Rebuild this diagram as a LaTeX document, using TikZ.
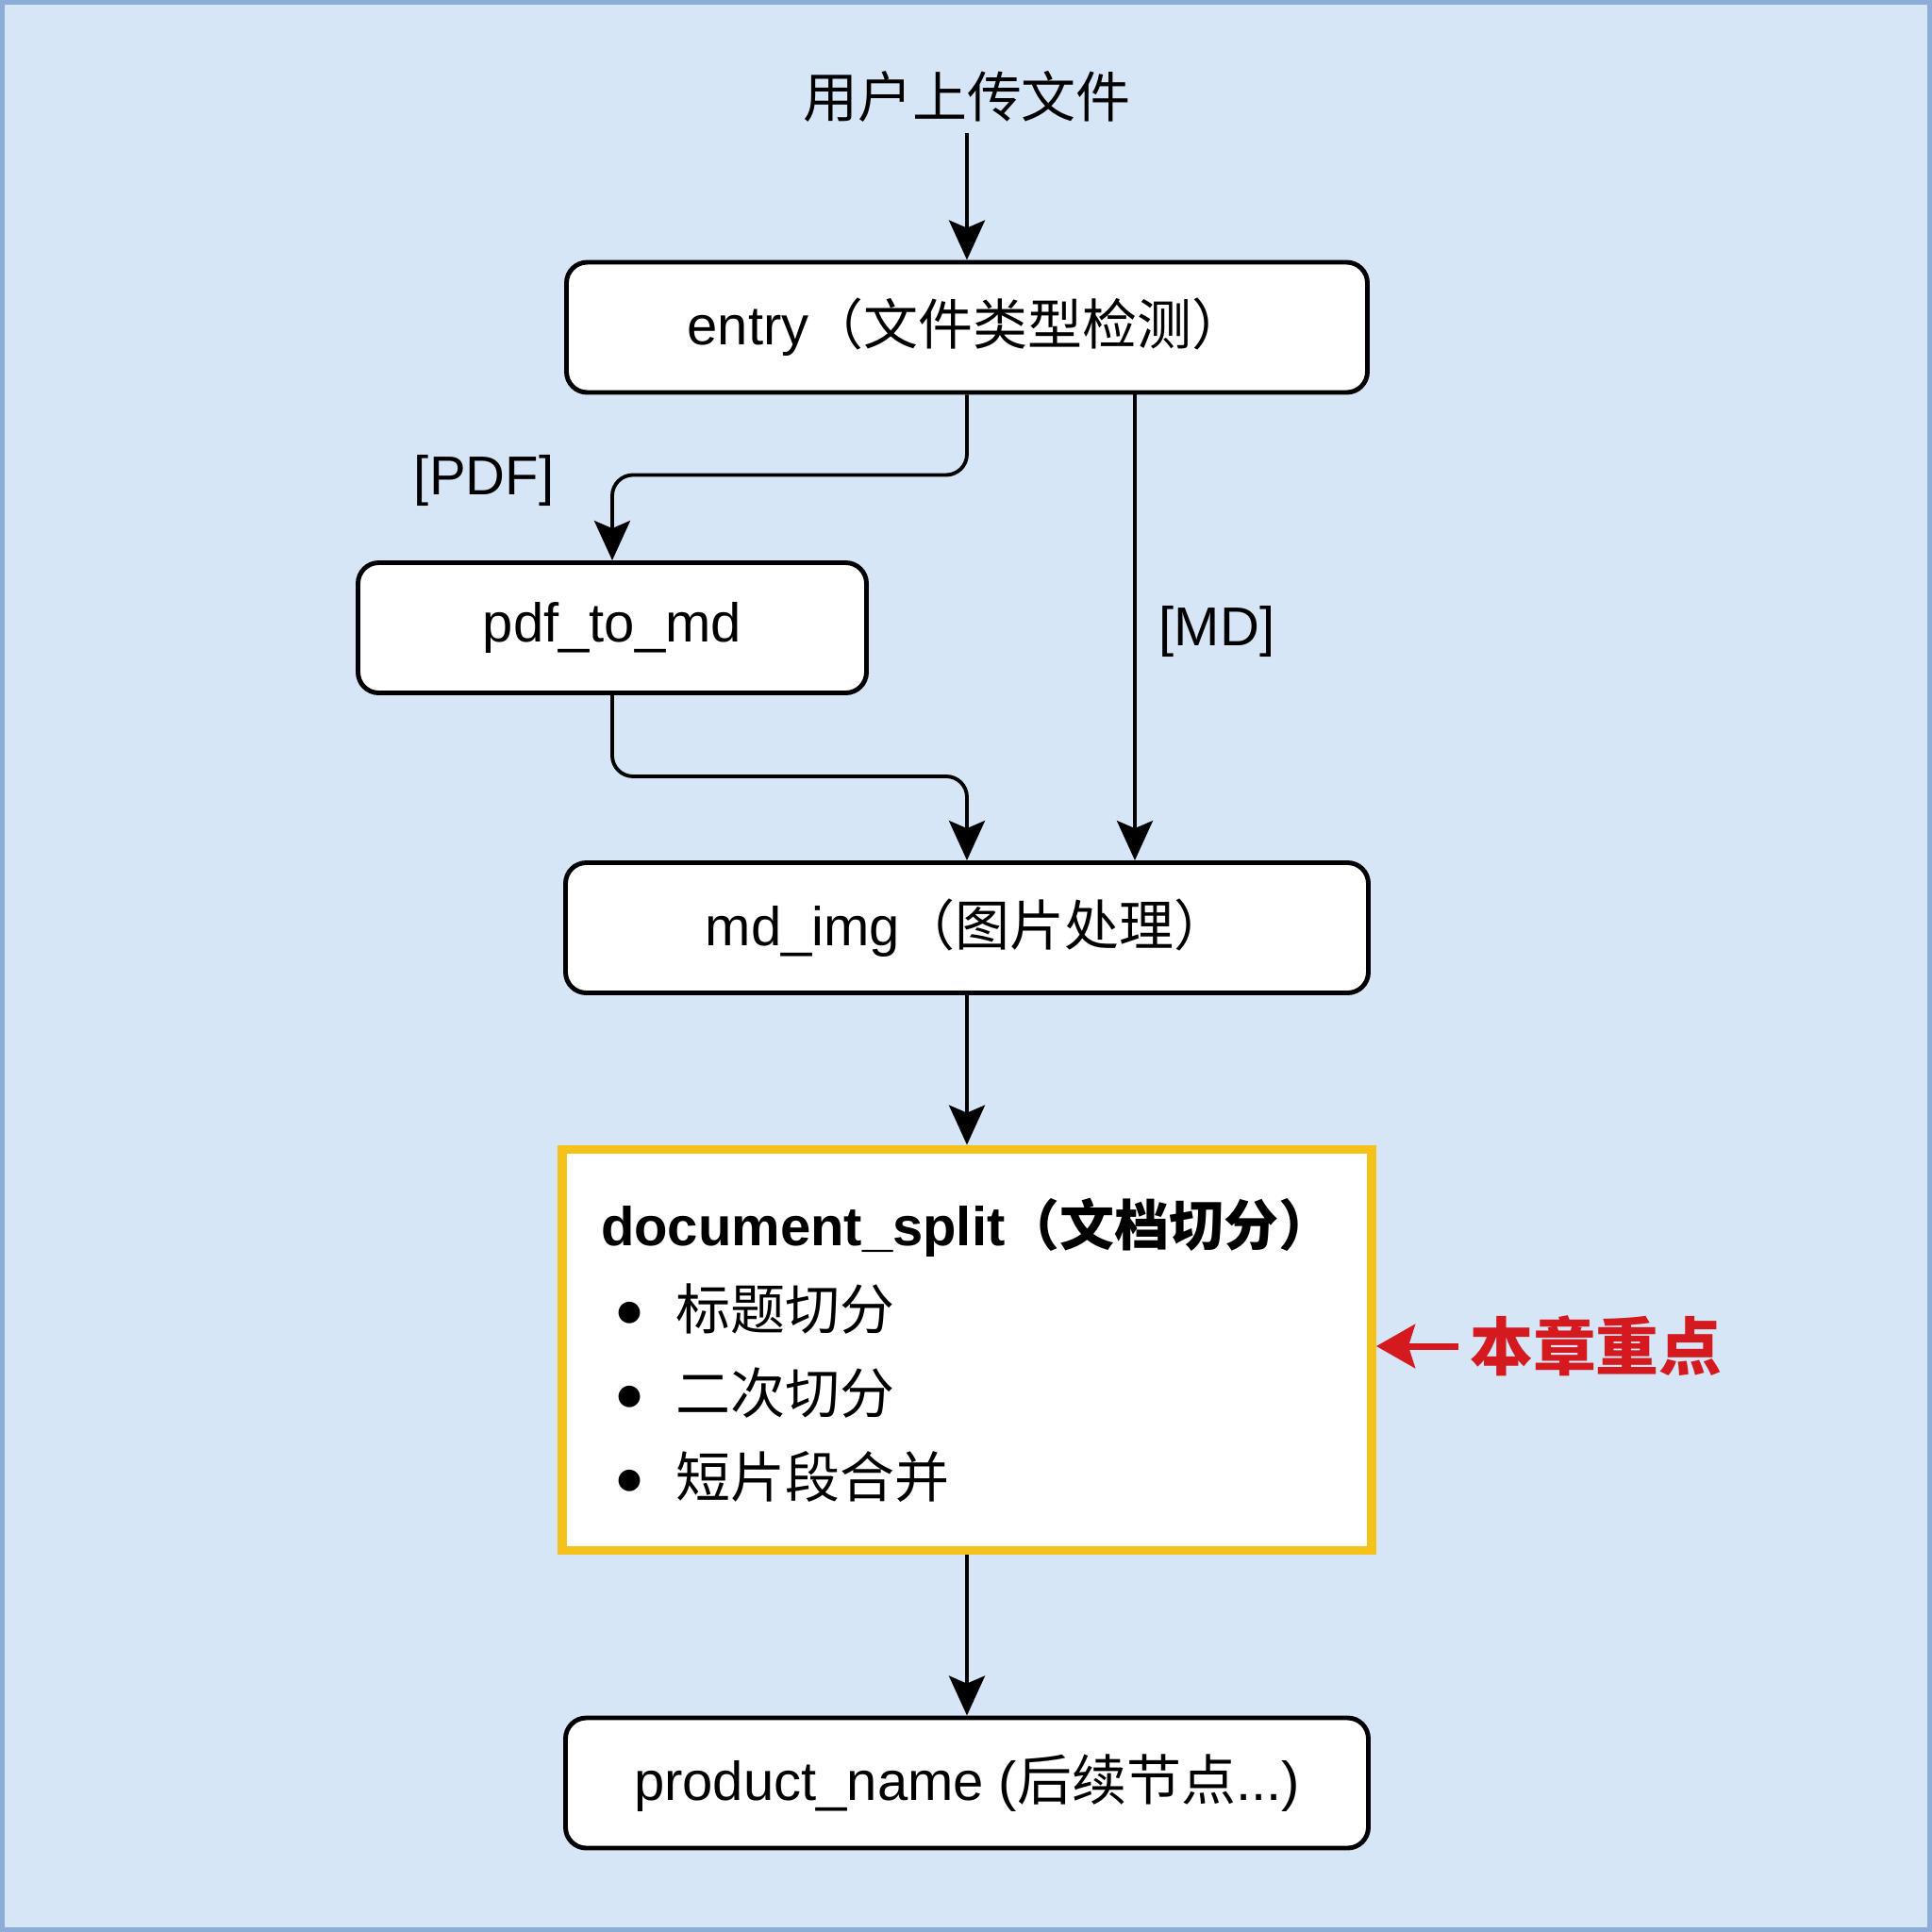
\documentclass[tikz,border=0pt]{standalone}
\usepackage{fontspec}
\setmainfont{Liberation Sans}
\newfontfamily\cjk{Noto Sans CJK SC}
\newfontfamily\dotfont{DejaVu Sans}
\usetikzlibrary{positioning,arrows.meta}
\definecolor{bgBlue}{HTML}{D6E6F6}
\definecolor{edgeBlue}{HTML}{8EACD8}
\definecolor{focusYellow}{HTML}{F5C21B}
\definecolor{focusRed}{HTML}{D41A1F}
\newcommand{\flowBox}[4]{%
    \node[flowbox,minimum width=#2cm] (#3) at (10.25,#1) {#4};
}
\newcommand{\bulletItem}[1]{%
    \hspace*{0.17cm}\raisebox{0.095cm}{\dotfont\fontsize{8.5}{8.5}\selectfont ●}\hspace{0.36cm}{\cjk #1}%
}
\tikzset{
    flowbox/.style={draw,line width=1.4pt,rounded corners=0.22cm,fill=white,minimum height=1.38cm,inner sep=0pt},
    splitbox/.style={draw=focusYellow,line width=2.8pt,fill=white,minimum width=8.58cm,minimum height=4.25cm,text width=7.76cm,align=left,inner xsep=0.41cm},
    flow/.style={-{Stealth[length=0.42cm,width=0.38cm,inset=0.08cm]},line width=1.1pt,rounded corners=0.22cm},
    focusflow/.style={-{Stealth[length=0.41cm,width=0.46cm,inset=0.07cm]},line width=2pt,draw=focusRed},
}

\begin{document}
\begin{tikzpicture}[font=\fontsize{16.5}{25.3}\selectfont]
    \useasboundingbox (0,0) rectangle (20.48,-20.48);
    \fill[bgBlue] (0,0) rectangle (20.48,-20.48);
    \draw[edgeBlue,line width=0.05cm] (0.025,-0.025) rectangle (20.455,-20.455);
    %nodes
    \node (upload) at (10.25,-1.02) {\cjk 用户上传文件};
    \flowBox{-3.47}{8.49}{entry}{entry{\cjk（文件类型检测）}}
    \node[flowbox,minimum width=5.39cm] (pdf) at (6.49,-6.655) {pdf\_to\_md};
    \flowBox{-9.835}{8.51}{mdimg}{md\_img{\cjk（图片处理）}}
    \node[splitbox] (split) at (10.25,-14.31) {%
        {\bfseries document\_split{\cjk（文档切分）}}\\
        \bulletItem{标题切分}\\
        \bulletItem{二次切分}\\
        \bulletItem{短片段合并}};
    \flowBox{-18.90}{8.51}{product}{product\_name ({\cjk 后续节点}...)}
    \node[text=focusRed,font=\fontsize{19}{23}\selectfont\cjk\bfseries,anchor=west] (focus) at (15.46,-14.27) {本章重点};
    \node (pdfTag) at (5.13,-5.09) {[PDF]};
    \node (mdTag) at (12.90,-6.69) {[MD]};
    \coordinate (mdLane) at (12.03,0);
    %edges
    \draw[flow] (upload) -- (entry);
    \draw[flow] (entry.south) -- ++(0,-0.85) -| (pdf.north);
    \draw[flow] (entry.south -| mdLane) -- (mdimg.north -| mdLane);
    \draw[flow] (pdf.south) -- ++(0,-0.86) -| (mdimg.north);
    \draw[flow] (mdimg) -- (split);
    \draw[flow] (split) -- (product);
    \draw[focusflow] (focus.west) -- (focus.west -| split.east);
\end{tikzpicture}
\end{document}
